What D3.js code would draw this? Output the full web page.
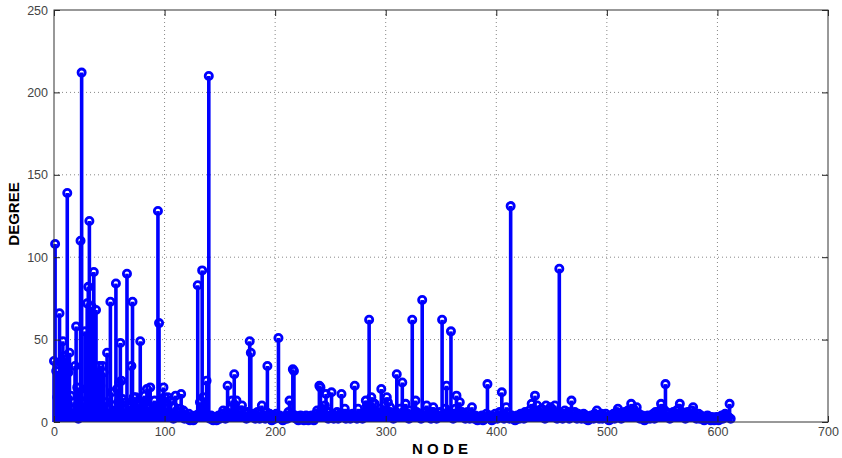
<!DOCTYPE html>
<html>
<head>
<meta charset="utf-8">
<title>Node degree</title>
<script src="https://d3js.org/d3.v7.min.js"></script>
<style>
	body { margin: 0; background: #fff; }
	.tick text { font-family: Arial, "Liberation Sans", sans-serif; font-size: 12.5px; fill: #444; }
	.grid line { stroke: #888; stroke-dasharray: 1,3; }
	.axlabel { font-family: Arial, "Liberation Sans", sans-serif; font-weight: bold; font-size: 15px; fill: #000; }
</style>
</head>
<body>
<script>

	// degree of each node (node number = position in the list)
	var degree = [
		37,108,31,15,8,66,36,25,49,40,  38,20,139,30,42,16,8,5,12,34,
		58,21,2,14,110,212,12,6,55,20,  72,82,122,25,70,18,91,30,68,12,
		28,34,22,10,34,30,5,12,42,8,    3,73,18,4,10,6,84,20,12,24,
		48,25,14,8,5,12,90,6,10,3,      34,73,15,8,15,12,4,10,49,6,
		5,8,16,12,20,6,9,21,4,7,        3,13,8,5,128,60,10,14,6,21,
		15,4,8,15,6,13,3,5,2,9,         16,4,6,3,8,17,5,7,2,3,
		4,2,5,1,3,2,1,2,4,3,            83,5,12,6,92,15,8,4,25,3,
		210,2,4,3,1,2,3,1,2,4,          2,3,5,7,3,2,6,22,4,8,
		3,13,5,29,8,13,4,6,3,7,         10,4,3,5,2,6,3,49,42,4,
		3,5,2,4,6,3,2,5,10,3,           4,2,6,34,3,5,2,1,3,4,
		2,5,3,51,4,2,3,1,2,3,           4,2,6,13,3,5,32,31,4,2,
		3,1,2,4,2,3,1,2,4,2,            1,3,2,4,2,1,3,5,7,4,
		22,21,8,3,5,10,17,4,2,6,        3,18,5,2,4,3,6,2,3,5,
		17,4,3,8,2,5,3,4,2,3,           5,4,22,3,2,8,4,3,5,2,
		4,6,13,10,5,62,8,15,12,4,       11,3,5,6,4,8,20,3,5,7,
		4,15,12,6,9,3,5,2,4,6,          29,3,5,8,4,24,6,3,11,4,
		5,2,7,4,62,5,3,13,6,4,          3,5,2,74,4,6,3,10,5,3,
		4,2,6,9,3,5,2,4,3,6,            4,62,3,5,8,22,4,6,3,55,
		5,2,4,8,16,5,3,12,4,6,          3,5,2,4,6,3,2,5,9,3,
		2,4,3,1,2,3,2,4,1,3,            2,5,23,3,2,4,1,3,2,5,
		3,2,4,6,3,18,5,2,4,9,           3,5,2,131,4,2,3,1,2,4,
		3,2,5,3,4,2,6,3,5,4,            7,3,11,6,4,16,5,10,3,6,
		4,8,3,5,2,10,4,6,3,9,           5,3,6,10,4,2,5,93,3,4,
		2,5,7,3,4,6,2,3,13,5,           3,6,4,2,5,3,4,2,3,5,
		2,4,3,1,3,2,4,3,2,5,            3,7,4,2,3,5,2,4,3,5,
		2,3,1,4,2,3,5,2,4,6,            8,3,5,2,4,3,6,4,5,7,
		4,6,11,5,8,3,6,9,4,5,           2,3,4,2,1,3,2,4,3,2,
		4,3,5,2,6,4,3,5,7,11,           5,8,4,23,6,3,5,2,4,3,
		6,4,3,7,5,8,11,4,6,3,           5,2,4,6,3,5,4,7,9,3,
		4,2,3,5,2,4,3,2,1,3,            2,4,3,2,1,3,2,1,2,3,
		2,1,3,2,4,2,3,5,4,3,            3,11,2
	];
	var xTicks = [0, 100, 200, 300, 400, 500, 600, 700];
	var yTicks = [0, 50, 100, 150, 200, 250];

	// plot box in pixels
	var W = 842, H = 458;
	var pLeft = 54, pRight = 828, pTop = 10, pBottom = 422;

	var svg = d3.select("body").append("svg")
		.attr("width", W)
		.attr("height", H);

	var x = d3.scaleLinear().domain([0, 700]).range([pLeft, pRight]);
	var y = d3.scaleLinear().domain([0, 250]).range([pBottom, pTop]);

	// dotted grid
	var grid = svg.append("g").attr("class", "grid");
	grid.selectAll(".gx").data(xTicks.slice(1, -1)).enter().append("line")
		.attr("class", "gx")
		.attr("x1", x).attr("x2", x).attr("y1", pTop).attr("y2", pBottom);
	grid.selectAll(".gy").data(yTicks.slice(1, -1)).enter().append("line")
		.attr("class", "gy")
		.attr("x1", pLeft).attr("x2", pRight).attr("y1", y).attr("y2", y);

	// stems
	var stems = svg.append("g");
	stems.selectAll("line").data(degree).enter().append("line")
		.attr("x1", function (d, i) { return x(i); })
		.attr("x2", function (d, i) { return x(i); })
		.attr("y1", y(0))
		.attr("y2", function (d) { return y(d); })
		.attr("stroke", "#0000ff")
		.attr("stroke-width", 3.6);

	stems.selectAll("circle").data(degree).enter().append("circle")
		.attr("cx", function (d, i) { return x(i); })
		.attr("cy", function (d) { return y(d); })
		.attr("r", 3.6)
		.attr("fill", "none")
		.attr("stroke", "#0000ff")
		.attr("stroke-width", 2.8);

	// axes (ticks inside, like matlab)
	var tickLen = 6;
	function darkTicks(g) {
		g.select(".domain").remove();
		g.selectAll(".tick line").attr("stroke", "#222");
	}

	svg.append("g")
		.attr("transform", "translate(0," + pBottom + ")")
		.call(d3.axisBottom(x).tickValues(xTicks).tickSizeInner(-tickLen).tickSizeOuter(0).tickPadding(5))
		.call(darkTicks);

	svg.append("g")
		.attr("transform", "translate(" + pLeft + ",0)")
		.call(d3.axisLeft(y).tickValues(yTicks).tickSizeInner(-tickLen).tickSizeOuter(0).tickPadding(6))
		.call(darkTicks);

	// right / top ticks
	svg.append("g")
		.attr("transform", "translate(" + pRight + ",0)")
		.call(d3.axisRight(y).tickValues(yTicks).tickSizeInner(-tickLen).tickSizeOuter(0).tickFormat(""))
		.call(darkTicks);
	svg.append("g")
		.attr("transform", "translate(0," + pTop + ")")
		.call(d3.axisTop(x).tickValues(xTicks).tickSizeInner(-tickLen).tickSizeOuter(0).tickFormat(""))
		.call(darkTicks);

	// box
	svg.append("rect")
		.attr("x", pLeft).attr("y", pTop)
		.attr("width", pRight - pLeft).attr("height", pBottom - pTop)
		.attr("fill", "none")
		.attr("stroke", "#333")
		.attr("stroke-width", 1);

	// axis titles
	svg.append("text")
		.attr("class", "axlabel")
		.attr("x", 440).attr("y", 454)
		.attr("text-anchor", "middle")
		.text("N O D E");

	svg.append("text")
		.attr("class", "axlabel")
		.attr("transform", "translate(19,214) rotate(-90)")
		.attr("text-anchor", "middle")
		.text("DEGREE");

</script>
</body>
</html>
